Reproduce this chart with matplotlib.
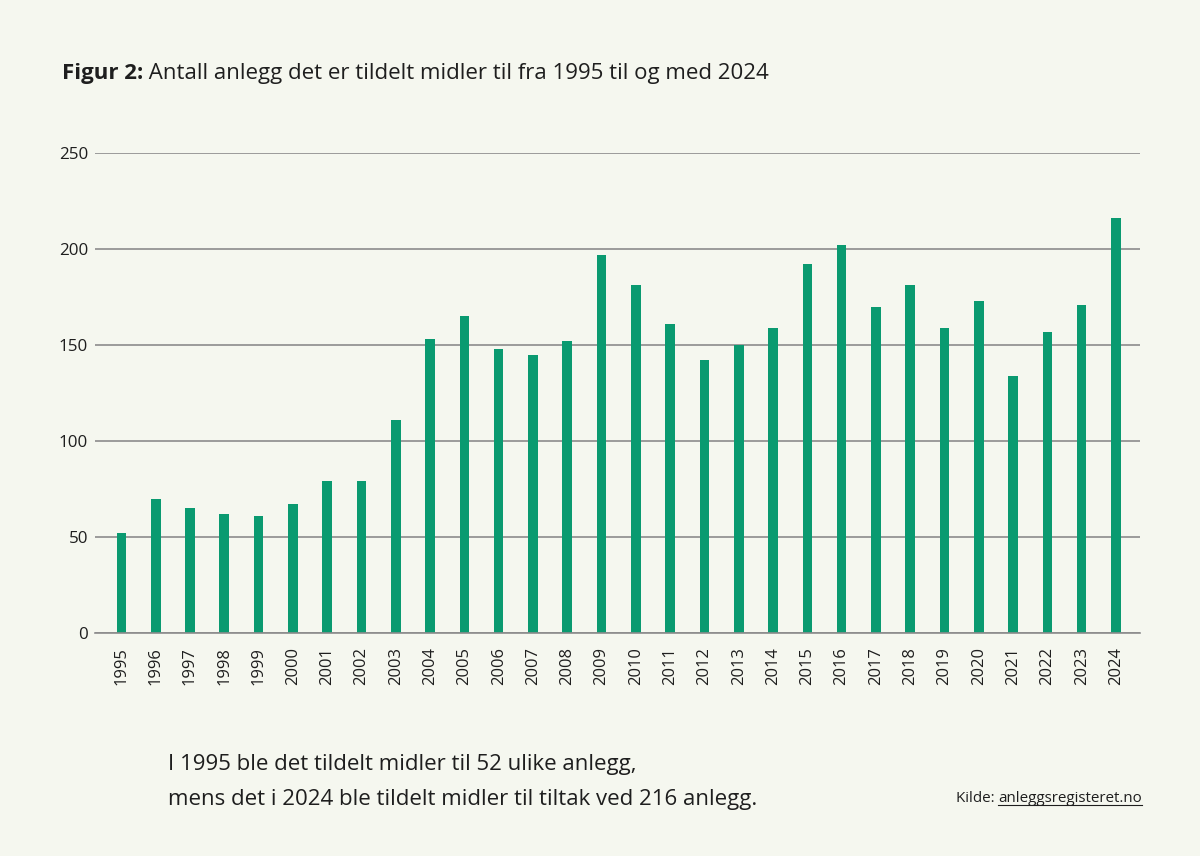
import matplotlib
matplotlib.use("Agg")
import matplotlib.pyplot as plt
from matplotlib import font_manager as fm
from matplotlib.lines import Line2D

years = [str(y) for y in range(1995, 2025)]
values = [52, 70, 65, 62, 61, 67, 79, 79, 111, 153, 165, 148, 145, 152, 197,
          181, 161, 142, 150, 159, 192, 202, 170, 181, 159, 173, 134, 157, 171, 216]
yticks = [0, 50, 100, 150, 200, 250]

title_bold = "Figur 2:"
title_rest = " Antall anlegg det er tildelt midler til fra 1995 til og med 2024"
note_lines = ["I 1995 ble det tildelt midler til 52 ulike anlegg,",
              "mens det i 2024 ble tildelt midler til tiltak ved 216 anlegg."]
source_label = "Kilde: "
source_link = "anleggsregisteret.no"

available = {f.name for f in fm.fontManager.ttflist}
FONT = "Open Sans" if "Open Sans" in available else "DejaVu Sans"

BG = "#f5f7ef"
GREEN = "#0a9a70"
GRID = "#8c8c8c"
TXT = "#1e1e1e"

W, H = 1200, 856
fig = plt.figure(figsize=(12, 8.56), dpi=100, facecolor=BG)
renderer = fig.canvas.get_renderer()


def fit_size(text, target_px, weight="normal"):
    t = fig.text(0, 0, text, fontsize=10, family=FONT, fontweight=weight)
    w = t.get_window_extent(renderer).width
    t.remove()
    return 10 * target_px / w


ax = fig.add_axes([95 / W, 1 - 633 / H, (1140 - 95) / W, (633 - 153) / H])
ax.set_facecolor(BG)

x = list(range(len(years)))
ax.bar(x, values, width=0.28, color=GREEN, zorder=3)
ax.set_xlim(-0.77, len(years) - 1 + 0.7)
ax.set_ylim(0, 250)
ax.set_yticks(yticks)
ysize = fit_size("100", 29.5)
ax.set_yticklabels([str(v) for v in yticks], fontsize=ysize, family=FONT, color=TXT)
ax.set_xticks(x)
xsize = fit_size("1995", 38)
ax.set_xticklabels(years, rotation=90, fontsize=xsize, family=FONT, color=TXT)
ax.tick_params(axis="both", length=0)
ax.tick_params(axis="x", pad=10)
ax.tick_params(axis="y", pad=5)
ax.yaxis.grid(True, color=GRID, linewidth=1.2, zorder=0)
for s in ["top", "right", "left"]:
    ax.spines[s].set_visible(False)
ax.spines["bottom"].set_color(GRID)
ax.spines["bottom"].set_linewidth(1.2)
ax.spines["bottom"].set_zorder(4)

# Title
tsize = fit_size(title_bold + title_rest, 705)
t1 = fig.text(62 / W, 1 - 79 / H, title_bold, fontsize=tsize, fontweight="bold",
              family=FONT, color=TXT, va="baseline", ha="left")
bb = t1.get_window_extent(renderer)
fig.text(bb.x1 / W, 1 - 79 / H, title_rest, fontsize=tsize, family=FONT,
         color=TXT, va="baseline", ha="left")

# Note
nsize = fit_size(note_lines[1], 590)
fig.text(168 / W, 1 - 770 / H, note_lines[0], fontsize=nsize, family=FONT,
         color=TXT, va="baseline", ha="left")
fig.text(168 / W, 1 - 805 / H, note_lines[1], fontsize=nsize, family=FONT,
         color=TXT, va="baseline", ha="left")

# Source
ssize = fit_size(source_label + source_link, 187)
s2 = fig.text(1142 / W, 1 - 802 / H, source_link, fontsize=ssize, family=FONT,
              color=TXT, va="baseline", ha="right")
bb2 = s2.get_window_extent(renderer)
fig.text(bb2.x0 / W, 1 - 802 / H, source_label, fontsize=ssize, family=FONT,
         color=TXT, va="baseline", ha="right")
uy = (H - 805) / H
fig.add_artist(Line2D([bb2.x0 / W, bb2.x1 / W], [uy, uy], color=TXT, linewidth=0.8))

fig.savefig("out.png", dpi=100, facecolor=BG)
